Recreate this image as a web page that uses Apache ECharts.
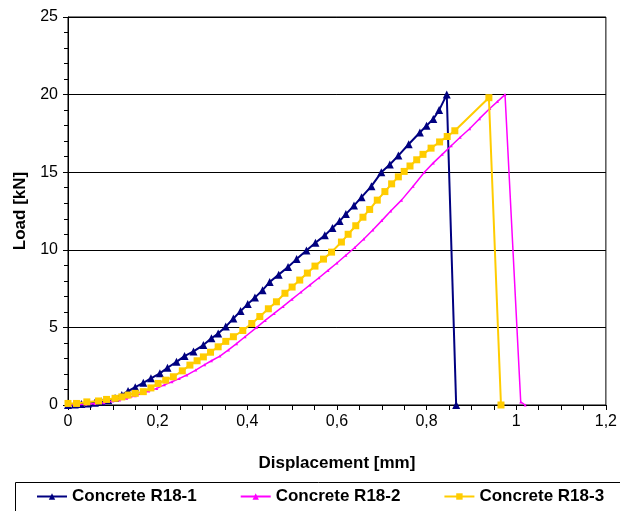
<!DOCTYPE html>
<html>
<head>
<meta charset="utf-8">
<script src="https://cdn.jsdelivr.net/npm/echarts@6/dist/echarts.min.js"></script>
<style>
    html,body{margin:0;padding:0;background:#fff;}
    #main{width:620px;height:511px;}
</style>
</head>
<body>
<div id="main"></div>
<script>
// 数据：位移 [mm] / 荷载 [kN]
var names = ['Concrete R18-1', 'Concrete R18-2', 'Concrete R18-3'];
var colors = ['#000080', '#ff00ff', '#ffcc00'];

var r18_1 = [
    [0,0],[0.015,0.03],[0.03,0.06],[0.045,0.1],[0.06,0.15],[0.075,0.22],[0.09,0.3],
    [0.105,0.45],[0.12,0.65],[0.134,0.9],[0.15,1.15],[0.168,1.43],[0.185,1.72],
    [0.205,2.04],[0.222,2.4],[0.242,2.78],[0.26,3.15],[0.28,3.45],[0.302,3.86],
    [0.32,4.3],[0.335,4.6],[0.352,5.05],[0.369,5.57],[0.385,6.05],[0.401,6.5],
    [0.417,6.92],[0.434,7.4],[0.45,7.92],[0.47,8.4],[0.491,8.89],[0.51,9.4],
    [0.532,9.96],[0.552,10.45],[0.573,10.93],[0.59,11.4],[0.606,11.85],[0.62,12.3],
    [0.638,12.85],[0.655,13.39],[0.677,14.1],[0.699,14.99],[0.718,15.5],[0.737,16.07],
    [0.76,16.8],[0.785,17.56],[0.8,18.0],[0.815,18.43],[0.828,19.0],[0.845,20.0],
    [0.866,0]
];

var r18_2 = [
    [0,0],[0.02,0.02],[0.04,0.05],[0.06,0.1],[0.08,0.15],[0.1,0.25],[0.115,0.33],
    [0.131,0.43],[0.15,0.6],[0.165,0.75],[0.18,0.9],[0.198,1.07],[0.215,1.3],
    [0.232,1.5],[0.248,1.7],[0.265,1.93],[0.285,2.25],[0.305,2.6],[0.32,2.85],
    [0.339,3.15],[0.358,3.55],[0.376,3.95],[0.395,4.4],[0.421,5.0],[0.44,5.45],
    [0.46,5.9],[0.48,6.35],[0.5,6.82],[0.52,7.28],[0.54,7.74],[0.56,8.2],
    [0.58,8.67],[0.6,9.15],[0.62,9.65],[0.64,10.15],[0.66,10.7],[0.68,11.28],
    [0.7,11.88],[0.72,12.5],[0.744,13.2],[0.77,14.1],[0.795,15.0],[0.815,15.6],
    [0.835,16.15],[0.855,16.7],[0.875,17.25],[0.896,17.8],[0.918,18.45],[0.941,19.1],
    [0.958,19.55],[0.975,20.0],[1.01,0.2],[1.02,0]
];

var r18_3 = [
    [0,0.1],[0.019,0.1],[0.042,0.2],[0.068,0.26],[0.086,0.36],[0.105,0.43],[0.12,0.52],
    [0.134,0.64],[0.15,0.75],[0.168,0.86],[0.185,1.1],[0.201,1.39],[0.218,1.6],
    [0.235,1.82],[0.255,2.2],[0.272,2.57],[0.288,2.85],[0.302,3.1],[0.318,3.4],
    [0.335,3.75],[0.352,4.1],[0.369,4.4],[0.39,4.8],[0.41,5.25],[0.428,5.7],
    [0.447,6.2],[0.465,6.65],[0.484,7.2],[0.5,7.6],[0.517,8.05],[0.534,8.5],
    [0.551,8.95],[0.57,9.4],[0.588,9.85],[0.61,10.5],[0.625,11.0],[0.642,11.55],
    [0.658,12.1],[0.673,12.6],[0.69,13.2],[0.707,13.75],[0.722,14.25],[0.737,14.7],
    [0.75,15.05],[0.763,15.4],[0.778,15.8],[0.792,16.15],[0.81,16.55],[0.829,16.95],
    [0.846,17.3],[0.863,17.67],[0.939,19.8],[0.966,0]
];

var xTicks = [0, 0.2, 0.4, 0.6, 0.8, 1, 1.2];
var yTicks = [0, 5, 10, 15, 20, 25];

var font = 'Liberation Sans, Arial, sans-serif';

var myChart = echarts.init(document.getElementById('main'));

myChart.setOption({
    animation: false,
    backgroundColor: '#fff',
    grid: {
        left: 68,
        right: 13,
        top: 17,
        bottom: 106,
        show: true,
        borderColor: '#000',
        borderWidth: 1
    },
    xAxis: {
        type: 'value',
        min: xTicks[0],
        max: xTicks[xTicks.length - 1],
        interval: 0.2,
        name: 'Displacement [mm]',
        nameLocation: 'middle',
        nameGap: 50,
        nameTextStyle: {fontFamily: font, fontSize: 17, fontWeight: 'bold', color: '#000'},
        axisLine: {show: true, lineStyle: {color: '#000', width: 1}},
        axisTick: {show: true, length: 5, lineStyle: {color: '#000'}},
        minorTick: {show: true, splitNumber: 4, length: 5, lineStyle: {color: '#000'}},
        splitLine: {show: false},
        axisLabel: {
            fontFamily: font, fontSize: 16, color: '#000', margin: 9,
            formatter: function (v) { return String(v).replace('.', ','); }
        }
    },
    yAxis: {
        type: 'value',
        min: yTicks[0],
        max: yTicks[yTicks.length - 1],
        interval: 5,
        name: 'Load [kN]',
        nameLocation: 'middle',
        nameGap: 38,
        nameTextStyle: {fontFamily: font, fontSize: 17, fontWeight: 'bold', color: '#000'},
        axisLine: {show: true, lineStyle: {color: '#000', width: 1}},
        axisTick: {show: true, length: 5, lineStyle: {color: '#000'}},
        minorTick: {show: true, splitNumber: 5, length: 4, lineStyle: {color: '#000'}},
        splitLine: {show: true, lineStyle: {color: '#000', width: 1}},
        axisLabel: {fontFamily: font, fontSize: 16, color: '#000', margin: 10}
    },
    graphic: [{
        type: 'rect',
        left: 15,
        top: 482,
        shape: {width: 620, height: 40},
        style: {fill: '#fff', stroke: '#000', lineWidth: 1},
        z: -1
    }],
    legend: {
        left: 31,
        top: 483,
        itemWidth: 30,
        itemHeight: 8,
        itemGap: 43,
        textStyle: {fontFamily: font, fontSize: 17, fontWeight: 'bold', color: '#000'},
        data: names
    },
    series: [
        {
            name: names[0],
            type: 'line',
            data: r18_1,
            color: colors[0],
            symbol: 'triangle',
            symbolSize: 8,
            lineStyle: {width: 2, color: colors[0]},
            itemStyle: {color: colors[0]},
            z: 2
        },
        {
            name: names[1],
            type: 'line',
            data: r18_2,
            color: colors[1],
            symbol: 'triangle',
            symbolSize: 3,
            lineStyle: {width: 1.5, color: colors[1]},
            itemStyle: {color: colors[1]},
            z: 3
        },
        {
            name: names[2],
            type: 'line',
            data: r18_3,
            color: colors[2],
            symbol: 'rect',
            symbolSize: 7,
            lineStyle: {width: 2, color: colors[2]},
            itemStyle: {color: colors[2]},
            z: 4
        }
    ]
});
</script>
</body>
</html>
